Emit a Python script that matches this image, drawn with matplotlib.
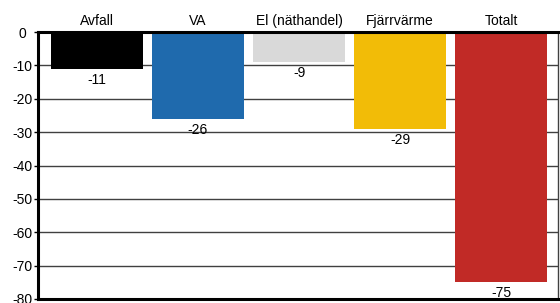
import matplotlib
matplotlib.use("Agg")
import matplotlib.pyplot as plt
import matplotlib.transforms as mtransforms

categories = ["Avfall", "VA", "El (näthandel)", "Fjärrvärme", "Totalt"]
values = [-11, -26, -9, -29, -75]
colors = ["#000000", "#1f6aad", "#d9d9d9", "#f2bc07", "#c12a26"]
yticks = [0, -10, -20, -30, -40, -50, -60, -70, -80]

plt.rcParams['font.family'] = ['Liberation Sans', 'DejaVu Sans']

W, H = 560, 303
fig = plt.figure(figsize=(W / 100, H / 100), dpi=100)
ax = fig.add_axes([38 / W, (H - 299) / H, 520 / W, 267 / H])

x = list(range(len(categories)))
ax.bar(x, values, width=0.91, color=colors, zorder=2)

ax.set_xlim(-0.584, 4.564)
ax.set_ylim(-80, 0)

# gridlines
for t in yticks[1:-1]:
    ax.axhline(t, color="#404040", lw=1.0, zorder=1)

ax.set_xticks([])
ax.set_yticks(yticks)
ax.set_yticklabels([str(t) for t in yticks], ha="center", fontsize=10)
ax.tick_params(axis="y", length=3, width=1, pad=8.2, color="black")

for side in ["left", "top", "bottom"]:
    ax.spines[side].set_linewidth(2.2)
    ax.spines[side].set_color("black")
ax.spines["right"].set_linewidth(1)
ax.spines["right"].set_color("#404040")
for s in ax.spines.values():
    s.set_zorder(3)

trans = mtransforms.blended_transform_factory(ax.transData, ax.transAxes)
for xi, c in zip(x, categories):
    ax.annotate(c, xy=(xi, 1.0), xycoords=trans, xytext=(0, 8),
                textcoords="offset points", ha="center", va="center",
                fontsize=10)

for xi, v in zip(x, values):
    ax.annotate(str(v), xy=(xi, v), xytext=(0, -7.8), textcoords="offset points",
                ha="center", va="center", fontsize=10, zorder=4)

fig.savefig("out.png", dpi=100)
